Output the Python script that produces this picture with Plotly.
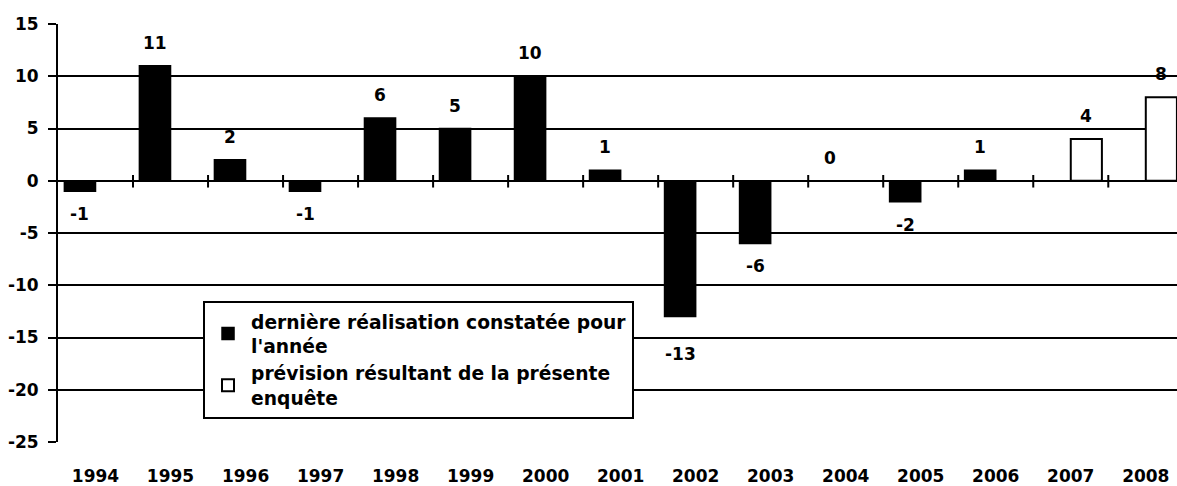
import plotly.graph_objects as go

years = ["1994", "1995", "1996", "1997", "1998", "1999", "2000", "2001",
         "2002", "2003", "2004", "2005", "2006", "2007", "2008"]
realised = [-1, 11, 2, -1, 6, 5, 10, 1, -13, -6, 0, -2, 1, None, None]
forecast = [None, None, None, None, None, None, None, None, None, None,
            None, None, None, 4, 8]
name_realised = "dernière réalisation constatée pour<br>l'année"
name_forecast = "prévision résultant de la présente<br>enquête"
y_ticks = [15, 10, 5, 0, -5, -10, -15, -20, -25]

FONT = "DejaVu Sans, Arial, sans-serif"
BARGAP = 0.17
half = (1 - BARGAP) / 4  # offset of each bar centre within its group
idx = list(range(len(years)))

fig = go.Figure()
fig.add_trace(go.Bar(x=idx, y=realised, name=name_realised,
                     marker=dict(color="black", line=dict(color="black", width=1.5)),
                     hoverinfo="skip"))
fig.add_trace(go.Bar(x=idx, y=forecast, name=name_forecast,
                     marker=dict(color="white", line=dict(color="black", width=2)),
                     hoverinfo="skip"))

# tick marks crossing the zero line between categories
tx, ty = [], []
for i in idx[:-1]:
    tx += [i + 0.5, i + 0.5, None]
    ty += [0.55, -0.65, None]
fig.add_trace(go.Scatter(x=tx, y=ty, mode="lines", line=dict(color="black", width=2),
                         showlegend=False, hoverinfo="skip"))

# data labels
extra = {8: -14}
lab_font = dict(family=FONT, size=17, color="black", weight="bold")
for i, v in enumerate(realised):
    if v is None:
        continue
    shift = 23 if v >= 0 else -23
    shift += extra.get(i, 0)
    fig.add_annotation(x=i - half, y=v, text=str(v), showarrow=False,
                       yshift=shift, yanchor="middle", font=lab_font)
for i, v in enumerate(forecast):
    if v is None:
        continue
    fig.add_annotation(x=i + half, y=v, text=str(v), showarrow=False,
                       yshift=23, yanchor="middle", font=lab_font)

fig.update_layout(
    autosize=True,
    margin=dict(l=58, r=0, t=24, b=39),
    paper_bgcolor="white", plot_bgcolor="white",
    barmode="group", bargap=BARGAP, bargroupgap=0,
    font=dict(family=FONT, size=17, color="black", weight="bold"),
    showlegend=True,
    legend=dict(x=0.1296, y=0.338, xanchor="left", yanchor="top",
                bgcolor="white", bordercolor="black", borderwidth=2,
                font=dict(family=FONT, size=18.7, color="black", weight="bold"),
                traceorder="normal", tracegroupgap=12,
                itemwidth=36),
    xaxis=dict(range=[-0.5, 14.416], tickmode="array", tickvals=idx, ticktext=years,
               showgrid=False, zeroline=False, showline=False, ticks="",
               ticklabelstandoff=22,
               tickfont=dict(family=FONT, size=17, weight="bold")),
    yaxis=dict(range=[-25, 15], tickmode="array", tickvals=y_ticks,
               ticktext=[str(t) for t in y_ticks],
               showgrid=True, gridcolor="black", gridwidth=2,
               zeroline=True, zerolinecolor="black", zerolinewidth=2,
               showline=True, linecolor="black", linewidth=2,
               ticks="outside", ticklen=8, tickwidth=2, tickcolor="black",
               ticklabelstandoff=6,
               tickfont=dict(family=FONT, size=17, weight="bold")),
)

fig.write_html("out.html",
               config={"displayModeBar": False, "responsive": True},
               default_width="100vw", default_height="100vh",
               post_script="document.documentElement.style.overflow='hidden';"
                           "document.body.style.margin='0';"
                           "document.body.style.overflow='hidden';"
                           "window.dispatchEvent(new Event('resize'));")
